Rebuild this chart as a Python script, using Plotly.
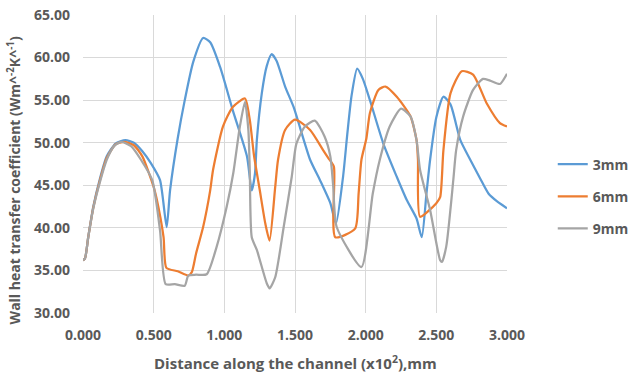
import plotly.graph_objects as go

# Distance along the channel (x10^2 mm) and wall heat transfer coefficient per rib pitch
x_3mm = [0.00, 0.014, 0.037, 0.073, 0.12, 0.168, 0.23, 0.30, 0.36, 0.42, 0.48, 0.545, 0.592, 0.616,
         0.67, 0.72, 0.78, 0.85, 0.90, 0.97, 1.06, 1.16, 1.194, 1.217, 1.23, 1.265, 1.30, 1.335,
         1.37, 1.43, 1.49, 1.607, 1.677, 1.75, 1.79, 1.84, 1.87, 1.90, 1.94, 1.98, 2.03, 2.125,
         2.22, 2.29, 2.36, 2.397, 2.43, 2.456, 2.50, 2.55, 2.60, 2.67, 2.74, 2.81, 2.87, 2.93, 3.00]
y_3mm = [36.2, 36.4, 38.9, 42.5, 45.8, 48.4, 49.9, 50.3, 50.0, 49.0, 47.6, 45.6, 40.1, 44.4,
         50.5, 55.0, 59.5, 62.3, 61.8, 58.9, 53.8, 48.4, 44.4, 46.4, 50.3, 55.8, 59.0, 60.4,
         59.6, 56.6, 54.2, 48.0, 45.6, 42.9, 40.5, 46.0, 51.0, 55.5, 58.7, 57.5, 55.0, 49.9,
         46.0, 43.3, 41.1, 38.9, 44.0, 48.0, 53.0, 55.4, 54.5, 50.3, 48.0, 45.8, 44.0, 43.1, 42.3]

x_6mm = [0.00, 0.014, 0.037, 0.073, 0.12, 0.168, 0.23, 0.29, 0.36, 0.42, 0.50, 0.52, 0.57, 0.59,
         0.67, 0.745, 0.77, 0.80, 0.85, 0.90, 0.92, 0.99, 1.06, 1.146, 1.18, 1.21, 1.25, 1.29,
         1.32, 1.36, 1.38, 1.43, 1.50, 1.607, 1.70, 1.736, 1.775, 1.785, 1.925, 1.95, 1.97, 2.005,
         2.03, 2.09, 2.14, 2.22, 2.317, 2.36, 2.37, 2.385, 2.50, 2.527, 2.55, 2.60, 2.68, 2.76,
         2.857, 2.95, 3.00]
y_6mm = [36.2, 36.4, 38.9, 42.4, 45.6, 48.2, 49.8, 50.1, 49.7, 48.4, 44.8, 43.5, 38.9, 35.3,
         34.9, 34.4, 34.8, 37.0, 40.1, 44.4, 46.8, 51.9, 54.2, 55.2, 52.7, 48.5, 44.5, 40.5,
         38.5, 44.8, 48.0, 51.5, 52.7, 51.5, 49.1, 48.2, 47.2, 38.9, 39.9, 44.0, 48.0, 50.5,
         53.5, 56.2, 56.6, 55.4, 53.1, 50.3, 48.0, 41.3, 42.9, 43.6, 49.1, 55.8, 58.4, 58.0,
         54.6, 52.3, 51.9]

x_9mm = [0.00, 0.014, 0.037, 0.073, 0.12, 0.168, 0.22, 0.27, 0.34, 0.41, 0.49, 0.545, 0.585, 0.65,
         0.72, 0.745, 0.80, 0.875, 0.946, 1.017, 1.064, 1.11, 1.146, 1.17, 1.18, 1.194, 1.23, 1.30,
         1.32, 1.36, 1.42, 1.477, 1.51, 1.57, 1.64, 1.71, 1.75, 1.77, 1.795, 1.97, 2.05, 2.10,
         2.17, 2.25, 2.317, 2.36, 2.385, 2.456, 2.527, 2.54, 2.57, 2.62, 2.64, 2.69, 2.76, 2.83,
         2.88, 2.95, 3.00]
y_9mm = [36.2, 36.4, 38.9, 42.3, 45.4, 48.0, 49.6, 50.1, 49.6, 48.0, 45.6, 39.7, 33.4, 33.4,
         33.2, 34.4, 34.5, 34.55, 37.8, 42.5, 46.5, 51.9, 54.8, 51.5, 46.8, 38.9, 37.4, 33.5,
         32.9, 34.2, 40.1, 46.0, 49.9, 51.9, 52.6, 50.7, 48.4, 45.0, 40.1, 35.4, 44.0, 48.0,
         51.9, 54.0, 53.1, 50.3, 46.8, 42.1, 36.2, 36.0, 37.8, 45.6, 49.1, 53.1, 56.2, 57.5,
         57.3, 56.9, 58.1]

series = [
    ("3mm", x_3mm, y_3mm, "#5B9BD5"),
    ("6mm", x_6mm, y_6mm, "#ED7D31"),
    ("9mm", x_9mm, y_9mm, "#A5A5A5"),
]

x_ticks = [0.0, 0.5, 1.0, 1.5, 2.0, 2.5, 3.0]
y_ticks = [30, 35, 40, 45, 50, 55, 60, 65]

FONT = "Open Sans"
GREY_TEXT = "#595959"

fig = go.Figure()
for i, (name, xs, ys, color) in enumerate(series):
    fig.add_trace(go.Scatter(
        x=xs, y=ys, name=name, mode="lines",
        line=dict(color=color, width=2.25, shape="spline", smoothing=0.6),
        legendgroup=f"g{i}",
    ))

fig.update_layout(
    width=631, height=373,
    margin=dict(l=83, r=124, t=15, b=60, autoexpand=False),
    paper_bgcolor="white", plot_bgcolor="white",
    font=dict(family=FONT, color=GREY_TEXT),
    showlegend=True,
    legend=dict(
        xref="container", yref="container",
        x=0.876, y=0.602, xanchor="left", yanchor="top",
        font=dict(family=FONT, size=14, color=GREY_TEXT, weight="bold"),
        traceorder="grouped", tracegroupgap=11,
        bgcolor="rgba(0,0,0,0)",
    ),
    xaxis=dict(
        range=[0, 3], tickvals=x_ticks,
        ticktext=[f"{v:.3f}" for v in x_ticks],
        showgrid=True, gridcolor="#D9D9D9", gridwidth=1,
        zeroline=False, showline=False, ticks="", automargin=False,
        ticklabelstandoff=12,
        tickfont=dict(family=FONT, size=14, color=GREY_TEXT, weight="bold"),
    ),
    yaxis=dict(
        range=[30, 65], tickvals=y_ticks,
        ticktext=[f"{v:.2f}" for v in y_ticks],
        showgrid=True, gridcolor="#D9D9D9", gridwidth=1,
        zeroline=False, showline=False, ticks="", automargin=False,
        ticklabelstandoff=12,
        tickfont=dict(family=FONT, size=14, color=GREY_TEXT, weight="bold"),
    ),
    annotations=[
        dict(text="Distance along the channel (x10<sup>2</sup>),mm",
             xref="paper", yref="paper", x=0.5, y=-0.165,
             xanchor="center", yanchor="middle", showarrow=False,
             font=dict(family=FONT, size=15, color=GREY_TEXT, weight="bold")),
        dict(text="Wall heat transfer coefficient (Wm^<sup>-2</sup>K^<sup>-1</sup>)",
             xref="paper", yref="paper", x=-0.162, y=0.446,
             xanchor="center", yanchor="middle", showarrow=False, textangle=-90,
             font=dict(family=FONT, size=14, color=GREY_TEXT, weight="bold")),
    ],
)

fig.write_html("out.html")
